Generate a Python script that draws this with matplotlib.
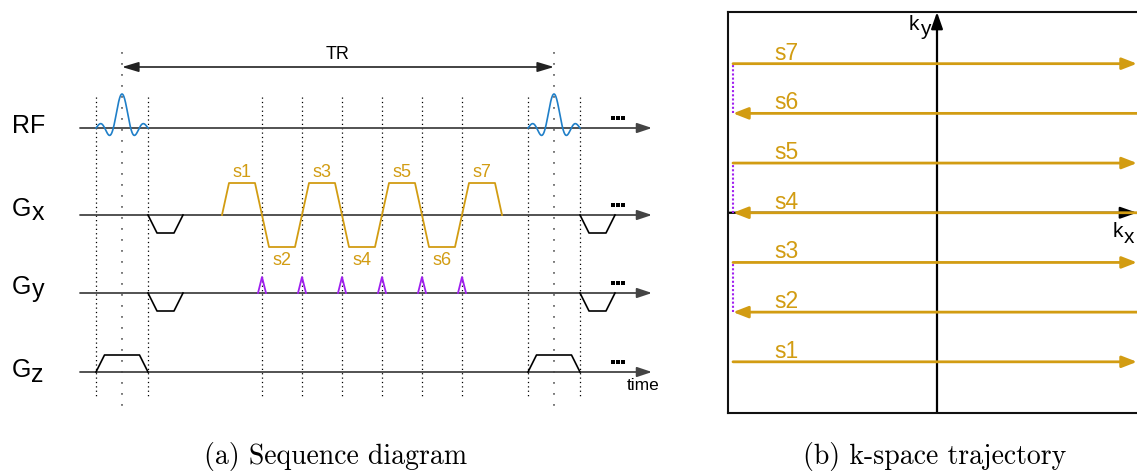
import numpy as np
import matplotlib
matplotlib.use('Agg')
import matplotlib.pyplot as plt
from matplotlib.patches import FancyArrowPatch

# ---------------- data ----------------
channel_names = ['RF', 'G', 'G', 'G']
channel_subs = ['', 'x', 'y', 'z']
rf_peak_times = [0.0, 43.2]          # two RF pulses, TR apart
rf_half_width = 2.6
sinc_lobes = 3
readout_labels = ['s1', 's2', 's3', 's4', 's5', 's6', 's7']
readout_polarity = [1, -1, 1, -1, 1, -1, 1]
readout_start = 10.0
echo_spacing = 4.0
readout_flat_half = 1.3
blip_times = [14.0, 18.0, 22.0, 26.0, 30.0, 34.0]
blip_half = 0.4
prephaser_starts = [2.6, 45.8]
prephaser_shape_t = [0.0, 0.9, 2.6, 3.5]
prephaser_shape_a = [0, -1, -1, 0]
slice_shape_t = [-2.6, -1.75, 1.75, 2.6]
slice_shape_a = [0, 1, 1, 0]
marker_times = [-2.6, 2.6, 14, 18, 22, 26, 30, 34, 40.6, 45.8]

ky_lines = [-3, -2, -1, 0, 1, 2, 3]
ky_labels = ['s1', 's2', 's3', 's4', 's5', 's6', 's7']
ky_direction = [1, -1, 1, -1, 1, -1, 1]
kx_start, kx_end = -1.02, 1.0
ky_blips = [(-2, -1), (0, 1), (2, 3)]

# ---------------- style / layout ----------------
W, H = 1137, 471
GOLD = '#d29c12'
PURPLE = '#a020f0'
BLUE = '#1f7fc8'
AXC = '#444444'
SANS = ['Liberation Sans', 'DejaVu Sans']
plt.rcParams['font.family'] = SANS

baselines = [128, 215, 293, 372]       # pixel rows of the four channels
amp_rf, amp_ro, amp_pre, amp_blip, amp_ss = 34, 32, 18, 16, 17
t_px0, t_scale = 122, 10.0             # time -> pixel

fig = plt.figure(figsize=(W / 100, H / 100), dpi=100)
ax_px = fig.add_axes([0, 0, 1, 1])
ax_px.set_xlim(0, W); ax_px.set_ylim(H, 0); ax_px.axis('off')
ax = fig.add_axes([0, 0, 1, 1])
ax.set_xlim(-t_px0 / t_scale, (W - t_px0) / t_scale); ax.set_ylim(H, 0); ax.axis('off')

def arrow(a, p0, p1, color, lw, hl=0.8, hw=0.3, style='-|>', z=3):
    ar = FancyArrowPatch(p0, p1, arrowstyle=f'{style},head_length={hl},head_width={hw}',
                         mutation_scale=10, lw=lw, color=color, shrinkA=0, shrinkB=0, zorder=z)
    a.add_patch(ar)

# channel axes
t_axis0, t_axis1 = -4.2, 53.0
for name, sub, yb in zip(channel_names, channel_subs, baselines):
    arrow(ax, (t_axis0, yb), (t_axis1, yb), AXC, 1.3, hl=0.9, hw=0.3)
    ax.plot([49.1, 49.6, 50.1], [yb - 10.5] * 3, 's', color='k', ms=2.2, mew=0)

# labels
lab_base = [133, 216, 294, 377]
sub_drop = [0, 4, 3, 5]
for name, sub, yb, d in zip(channel_names, channel_subs, lab_base, sub_drop):
    ax_px.text(12, yb, name, fontsize=18, va='baseline', ha='left')
    if sub:
        ax_px.text(31.5, yb + d, sub, fontsize=18, va='baseline', ha='left')

# dotted timing lines
ax.vlines(marker_times, 97, 398, colors='k', linestyles=(0, (1, 2.5)), lw=0.9, zorder=1)
ax.vlines(rf_peak_times, 52, 413, colors='#555555', linestyles=(0, (1.2, 6)), lw=1.1, zorder=1)

# TR arrow
arrow(ax, (rf_peak_times[0], 67), (rf_peak_times[1], 67), '#222222', 1.2, hl=1.0, hw=0.3, style='<|-|>')
ax.text(np.mean(rf_peak_times), 59, 'TR', fontsize=13, ha='center', va='baseline')

# RF pulses
u = np.linspace(-sinc_lobes, sinc_lobes, 400)
for tc in rf_peak_times:
    ax.plot(tc + u * rf_half_width / sinc_lobes, baselines[0] - amp_rf * np.sinc(u), color=BLUE, lw=1.2, zorder=4)

# slice select (Gz)
for tc in rf_peak_times:
    ax.plot(tc + np.array(slice_shape_t), baselines[3] - amp_ss * np.array(slice_shape_a), color='k', lw=1.2, zorder=4)

# prephasers (Gx, Gy)
for ts in prephaser_starts:
    for yb in (baselines[1], baselines[2]):
        ax.plot(ts + np.array(prephaser_shape_t), yb - amp_pre * np.array(prephaser_shape_a), color='k', lw=1.2, zorder=4)

# EPI readout
ro_t = [readout_start]
ro_a = [0]
for i, p in enumerate(readout_polarity):
    c = readout_start + echo_spacing / 2 + i * echo_spacing
    ro_t += [c - readout_flat_half, c + readout_flat_half]
    ro_a += [p, p]
    lab_y = baselines[1] - amp_ro * p
    if p > 0:
        ax.text(c, lab_y - 6, readout_labels[i], color=GOLD, fontsize=13, ha='center', va='baseline')
    else:
        ax.text(c, lab_y + 5, readout_labels[i], color=GOLD, fontsize=13, ha='center', va='top')
ro_t.append(readout_start + echo_spacing * len(readout_polarity))
ro_a.append(0)
ax.plot(ro_t, baselines[1] - amp_ro * np.array(ro_a), color=GOLD, lw=1.3, zorder=4)

# phase blips
for tb in blip_times:
    ax.plot([tb - blip_half, tb, tb + blip_half], [baselines[2], baselines[2] - amp_blip, baselines[2]],
            color=PURPLE, lw=1.3, zorder=4)

ax.text(50.5, 390, 'time', fontsize=12.5, ha='left', va='baseline')

# captions
ax_px.text(336, 464, '(a) Sequence diagram', fontsize=20, family='cmr10', ha='center', va='baseline')
ax_px.text(935, 464, '(b) k-space trajectory', fontsize=20, family='cmr10', ha='center', va='baseline')

# ---------------- k-space panel ----------------
ax_k = fig.add_axes([728 / W, (H - 413) / H, (1160 - 728) / W, 401 / H])
ax_k.set_facecolor('none')
ax_k.set_xlim(-1.045, 1.115)
ax_k.set_ylim(-4.03, 4.04)
ax_k.set_xticks([]); ax_k.set_yticks([])
for s in ax_k.spines.values():
    s.set_linewidth(1.5); s.set_color('#111111')

arrow(ax_k, (0, -4.03), (0, 4.04), 'k', 1.6, hl=1.0, hw=0.35, z=2)
arrow(ax_k, (-1.045, 0), (kx_end, 0), 'k', 1.6, hl=1.0, hw=0.35, z=2)

for ky, lab, d in zip(ky_lines, ky_labels, ky_direction):
    if d > 0:
        arrow(ax_k, (kx_start, ky), (kx_end, ky), GOLD, 2.0, hl=0.9, hw=0.35, z=4)
    else:
        arrow(ax_k, (1.2, ky), (kx_start, ky), GOLD, 2.0, hl=0.9, hw=0.35, z=4)
    ax_k.text(-0.815, ky + 0.08, lab, color=GOLD, fontsize=16.5, ha='left', va='baseline')

for a, b in ky_blips:
    ax_k.vlines(kx_start, a, b, colors=PURPLE, linestyles=(0, (1, 1)), lw=1.5, zorder=3)

fig.text(919.5 / W, 1 - 30 / H, 'k', fontsize=15, ha='right', va='baseline')
fig.text(920.5 / W, 1 - 35 / H, 'y', fontsize=15, ha='left', va='baseline')
fig.text(1113 / W, 1 - 237 / H, 'k', fontsize=15, ha='left', va='baseline')
fig.text(1123.5 / W, 1 - 243 / H, 'x', fontsize=15, ha='left', va='baseline')

fig.savefig('out.png', dpi=100)
